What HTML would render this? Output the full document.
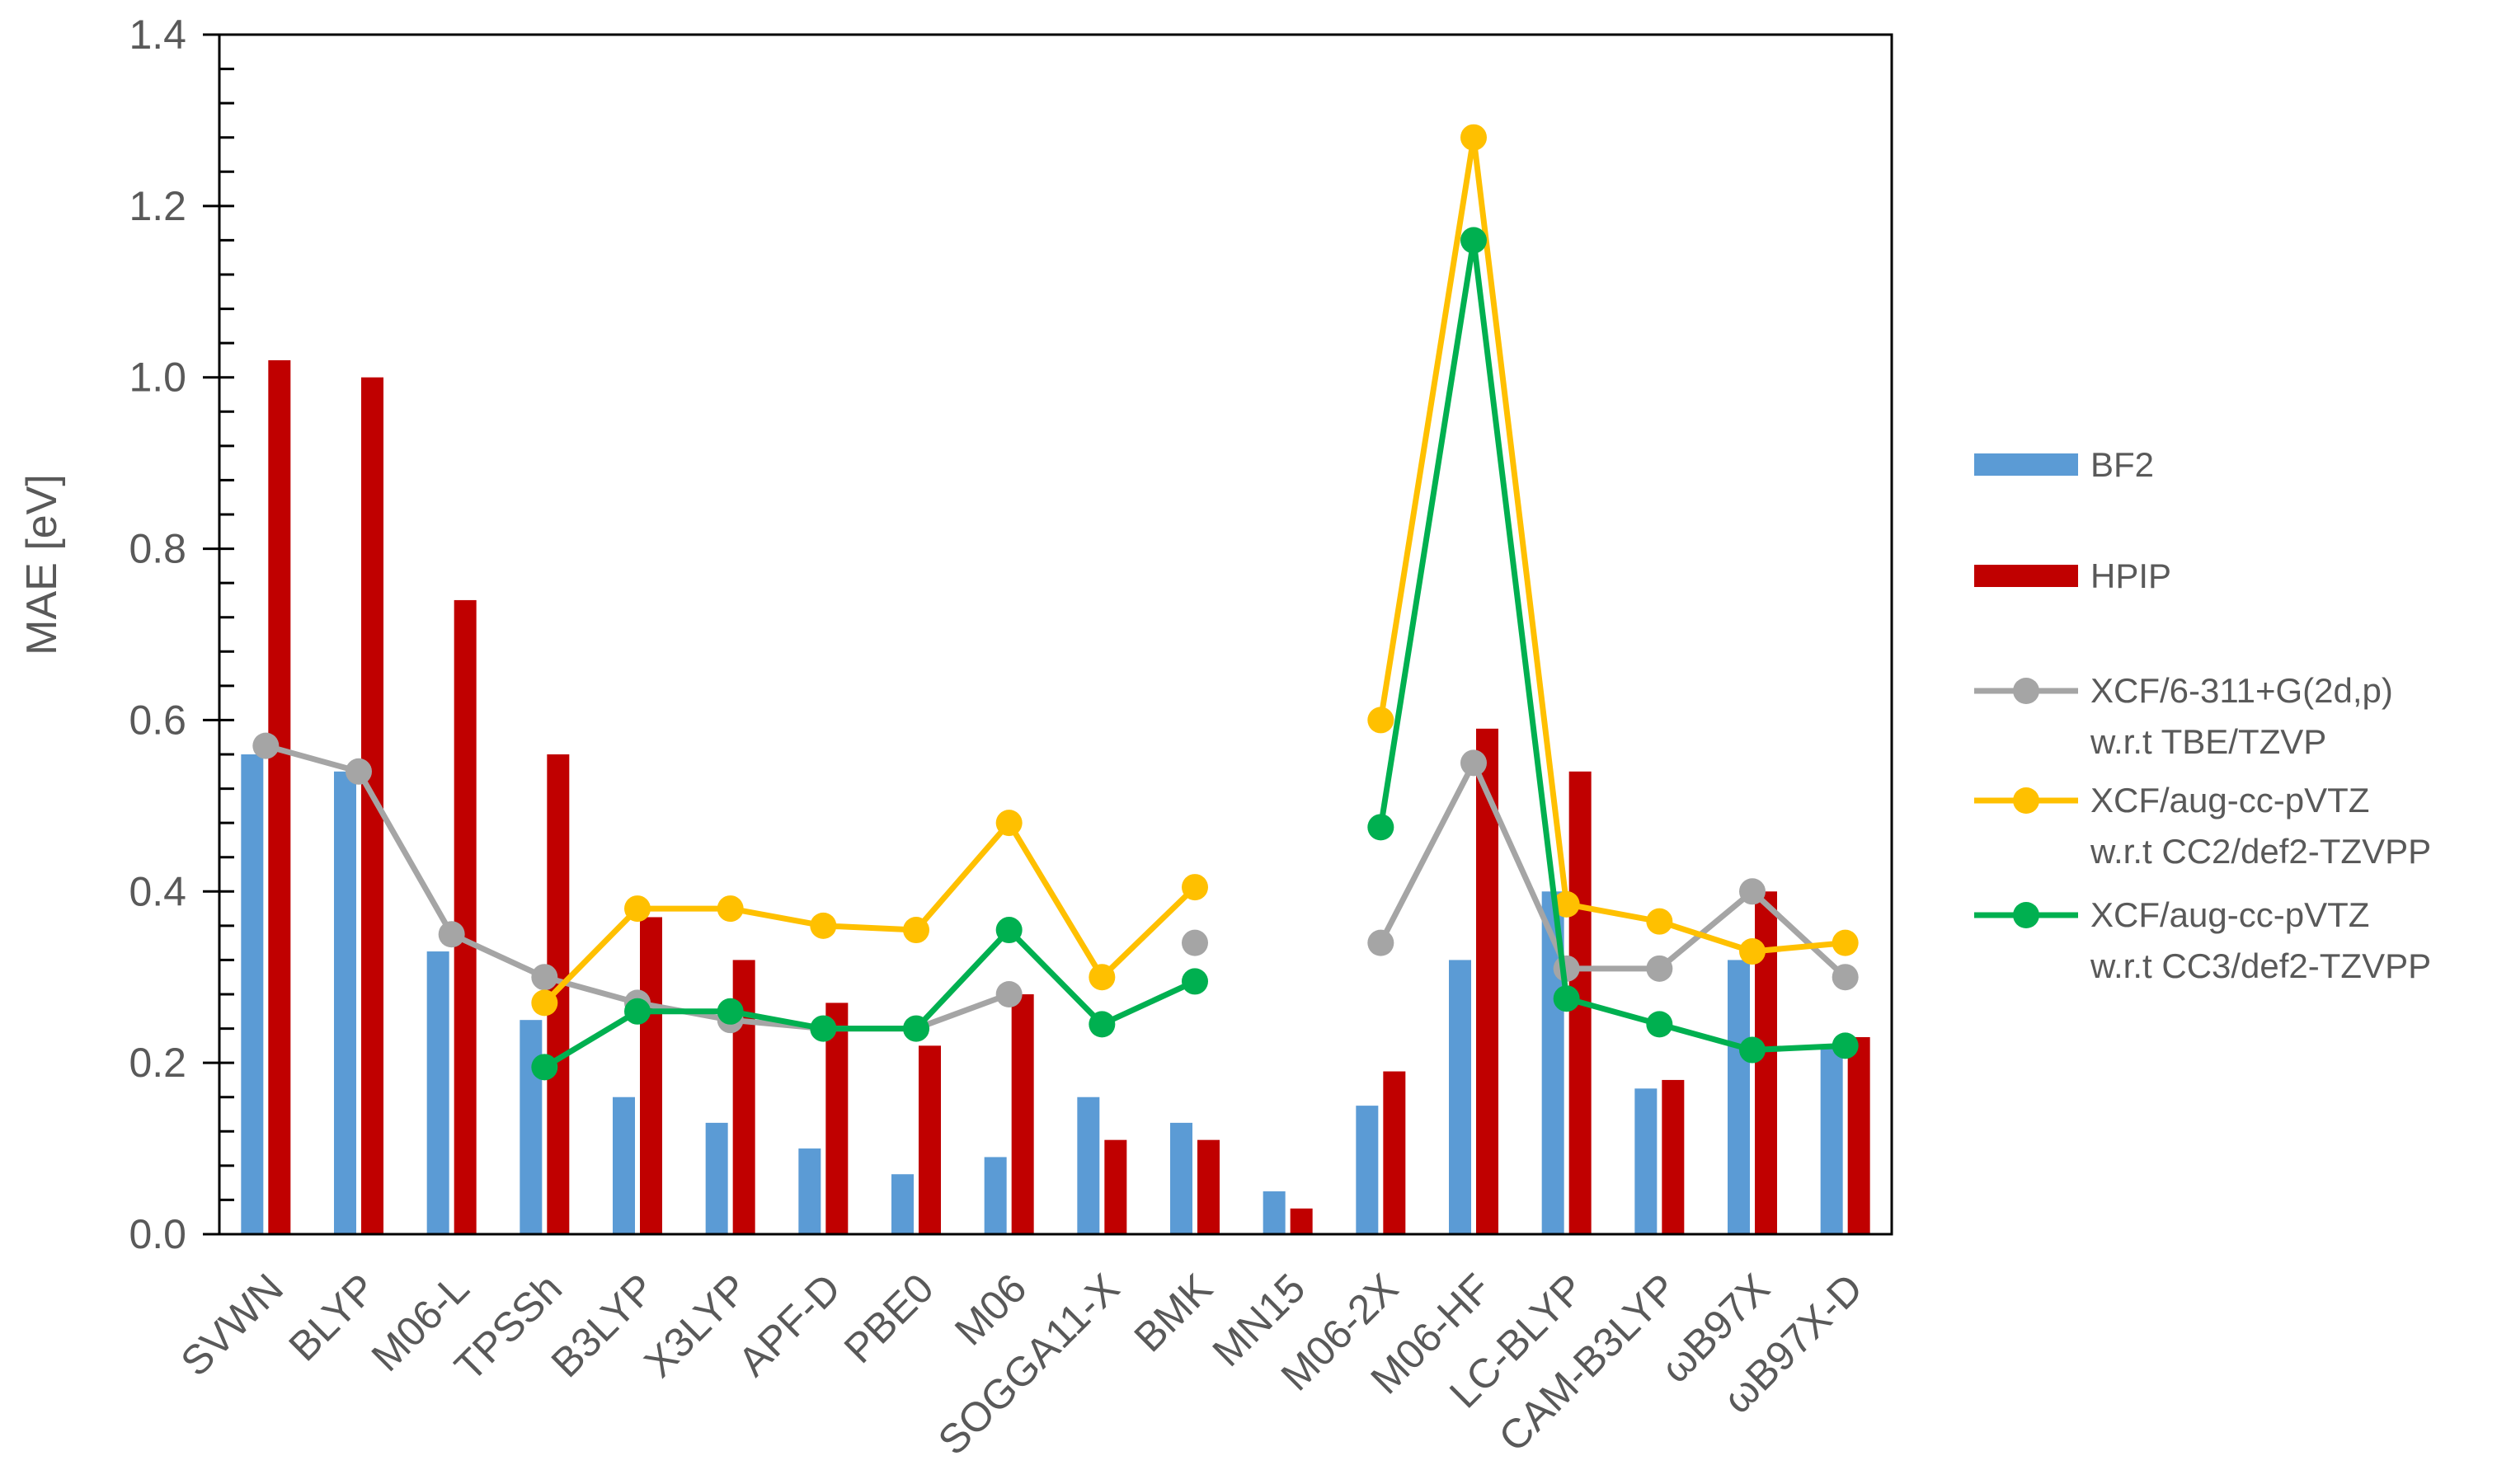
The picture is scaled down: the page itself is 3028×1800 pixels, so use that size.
<!DOCTYPE html>
<html><head><meta charset="utf-8"><style>
html,body{margin:0;padding:0;background:#fff;}
svg{display:block;font-family:"Liberation Sans",sans-serif;}
</style></head><body>
<svg id="chart" width="3028" height="1800" viewBox="0 0 3028 1800"></svg>
<script>
const categories=["SVWN","BLYP","M06-L","TPSSh","B3LYP","X3LYP","APF-D","PBE0","M06","SOGGA11-X","BMK","MN15","M06-2X","M06-HF","LC-BLYP","CAM-B3LYP","ωB97X","ωB97X-D"];
const bf2=[0.56,0.54,0.33,0.25,0.16,0.13,0.10,0.07,0.09,0.16,0.13,0.05,0.15,0.32,0.40,0.17,0.32,0.22];
const hpip=[1.02,1.00,0.74,0.56,0.37,0.32,0.27,0.22,0.28,0.11,0.11,0.03,0.19,0.59,0.54,0.18,0.40,0.23];
const xcfGrey=[0.57,0.54,0.35,0.30,0.27,0.25,0.24,0.24,0.28,null,0.34,null,0.34,0.55,0.31,0.31,0.40,0.30];
const xcfYellow=[null,null,null,0.27,0.38,0.38,0.36,0.355,0.48,0.30,0.405,null,0.60,1.28,0.385,0.365,0.33,0.34];
const xcfGreen=[null,null,null,0.195,0.26,0.26,0.24,0.24,0.355,0.245,0.295,null,0.475,1.16,0.275,0.245,0.215,0.22];
const yTicks=["0.0","0.2","0.4","0.6","0.8","1.0","1.2","1.4"];

const NS="http://www.w3.org/2000/svg";
const svg=document.getElementById('chart');
const L=266,R=2294,T=42,B=1497,YMAX=1.4;
const step=(R-L)/categories.length;
const xc=i=>L+step*(i+0.5);
const y=v=>B-(v/YMAX)*(B-T);
function mk(tag,attrs,parent){const e=document.createElementNS(NS,tag);for(const k in attrs)e.setAttribute(k,attrs[k]);(parent||svg).appendChild(e);return e;}

bf2.forEach((v,i)=>{const r=mk('rect',{x:xc(i)-30,y:y(v),width:27,height:B-y(v),fill:'#5B9BD5'});

});
hpip.forEach((v,i)=>{const r=mk('rect',{x:xc(i)+3,y:y(v),width:27,height:B-y(v),fill:'#C00000'});

});

const ax=mk('path',{d:`M${L},${T}H${R}V${B}H${L}Z`,fill:'none',stroke:'#000','stroke-width':3});


for(let k=0;k<=35;k++){const v=k*0.04;const yy=y(v);
 const major=Math.abs(v/0.2-Math.round(v/0.2))<1e-6;
 mk('line',{x1:major?L-20:L,x2:L+18,y1:yy,y2:yy,stroke:'#000','stroke-width':3});}
yTicks.forEach(t=>{const tx=mk('text',{x:L-40,y:y(parseFloat(t))+17,'text-anchor':'end','font-size':50,fill:'#595959'});tx.textContent=t;

});
const yt=mk('text',{x:0,y:0,transform:'translate(68,685) rotate(-90)','text-anchor':'middle','font-size':52,fill:'#595959'});yt.textContent='MAE [eV]';



categories.forEach((c,i)=>{const tx=mk('text',{x:0,y:0,transform:`translate(${xc(i)+24},1566) rotate(-45)`,'text-anchor':'end','font-size':50,fill:'#595959'});tx.textContent=c;

});

function series(arr,color,name){
 const g=mk('g',{});
 
 
 let d='';let pen=false;
 arr.forEach((v,i)=>{if(v==null){pen=false;return;}d+=(pen?'L':'M')+xc(i)+','+y(v);pen=true;});
 mk('path',{d:d,fill:'none',stroke:color,'stroke-width':7,'stroke-linejoin':'round'},g);
 arr.forEach((v,i)=>{if(v==null)return;const c=mk('circle',{cx:xc(i),cy:y(v),r:16,fill:color},g);
 
 });
}
series(xcfGrey,'#A5A5A5','grey');
series(xcfYellow,'#FFC000','yellow');
series(xcfGreen,'#00B050','green');

const lg=mk('g',{});


function txt(x,yy,s){const t=mk('text',{x:x,y:yy,'font-size':42,fill:'#595959'},lg);t.textContent=s;

}
mk('rect',{x:2394,y:550,width:126,height:27,fill:'#5B9BD5'},lg);txt(2535,578,'BF2');
mk('rect',{x:2394,y:685,width:126,height:27,fill:'#C00000'},lg);txt(2535,713,'HPIP');
[['#A5A5A5',838,'XCF/6-311+G(2d,p)','w.r.t TBE/TZVP'],['#FFC000',971,'XCF/aug-cc-pVTZ','w.r.t CC2/def2-TZVPP'],['#00B050',1110,'XCF/aug-cc-pVTZ','w.r.t CC3/def2-TZVPP']].forEach(e=>{
 mk('line',{x1:2394,x2:2520,y1:e[1],y2:e[1],stroke:e[0],'stroke-width':7},lg);
 mk('circle',{cx:2457,cy:e[1],r:16,fill:e[0]},lg);
 txt(2535,e[1]+14,e[2]);txt(2535,e[1]+76,e[3]);
});
</script>
</body></html>
